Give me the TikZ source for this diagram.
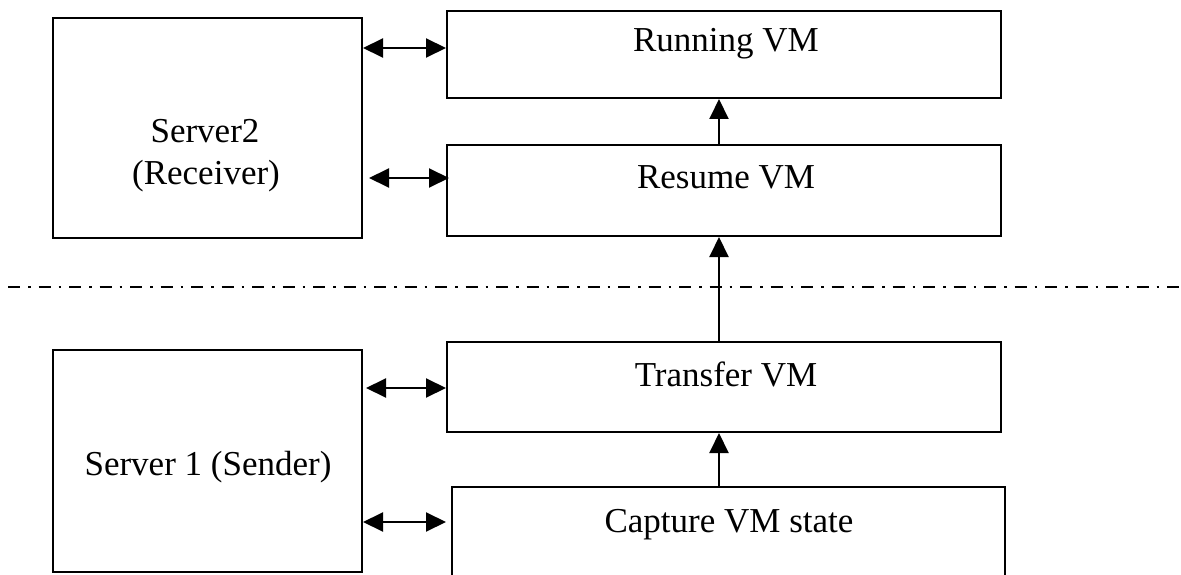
\documentclass[tikz,border=0pt]{standalone}
\usepackage{fontspec}
\setmainfont{Liberation Serif}
\usetikzlibrary{arrows.meta}
\tikzset{
  box/.style={draw, line width=2pt, rectangle, inner sep=0pt},
  lbl/.style={anchor=base, inner sep=0pt, font=\fontsize{35}{42}\selectfont},
  link/.style={line width=2pt, {Triangle[length=20pt,width=19pt]}-{Triangle[length=20pt,width=19pt]}},
  flow/.style={line width=2pt, -{Triangle[length=20pt,width=19pt]}},
  divider/.style={line width=2.5pt, dash pattern=on 12pt off 8pt on 2.5pt off 8pt}
}
\begin{document}
\begin{tikzpicture}[x=1pt,y=-1pt]
  \useasboundingbox (0,0) rectangle (1181,575);
  \clip (0,0) rectangle (1181,575);

  % receiver side
  \node[box, minimum width=309pt, minimum height=220pt] (srv2) at (207.5,128) {};
  \node[box, minimum width=554pt, minimum height=87pt] (run) at (724,54.5) {};
  \node[box, minimum width=554pt, minimum height=91pt] (res) at (724,190.5) {};

  % sender side
  \node[box, minimum width=309pt, minimum height=222pt] (srv1) at (207.5,461) {};
  \node[box, minimum width=554pt, minimum height=90pt] (xfer) at (724,387) {};
  \node[box, minimum width=553pt, minimum height=133pt] (cap) at (728.5,553.5) {};

  % labels
  \node[lbl] (tsrv2a) at (205,143) {Server2};
  \node[lbl] (tsrv2b) at (206,185) {(Receiver)};
  \node[lbl] (trun) at (726,52) {Running VM};
  \node[lbl] (tres) at (726,189) {Resume VM};
  \node[lbl] (txfer) at (726,386) {Transfer VM};
  \node[lbl] (tsrv1) at (208,475) {Server 1 (Sender)};
  \node[lbl] (tcap) at (729,532) {Capture VM state};

  % boundary between the two hosts
  \coordinate (divL) at (8,287);
  \coordinate (divR) at (1185,287);
  \draw[divider] (divL) -- (divR);

  % host <-> stage links
  \draw[link] (srv2.east |- 0,48) -- (run.west |- 0,48);
  \draw[link] ([xshift=6pt]srv2.east |- 0,178) -- ([xshift=3pt]res.west |- 0,178);
  \draw[link] ([xshift=3pt]srv1.east |- 0,388) -- (xfer.west |- 0,388);
  \draw[link] (srv1.east |- 0,522) -- ([xshift=-5pt]cap.west |- 0,522);

  % migration flow
  \coordinate (flowx) at (719,0);
  \draw[flow] (flowx |- cap.north) -- (flowx |- xfer.south);
  \draw[flow] (flowx |- xfer.north) -- (flowx |- res.south);
  \draw[flow] (flowx |- res.north) -- (flowx |- run.south);
\end{tikzpicture}
\end{document}
